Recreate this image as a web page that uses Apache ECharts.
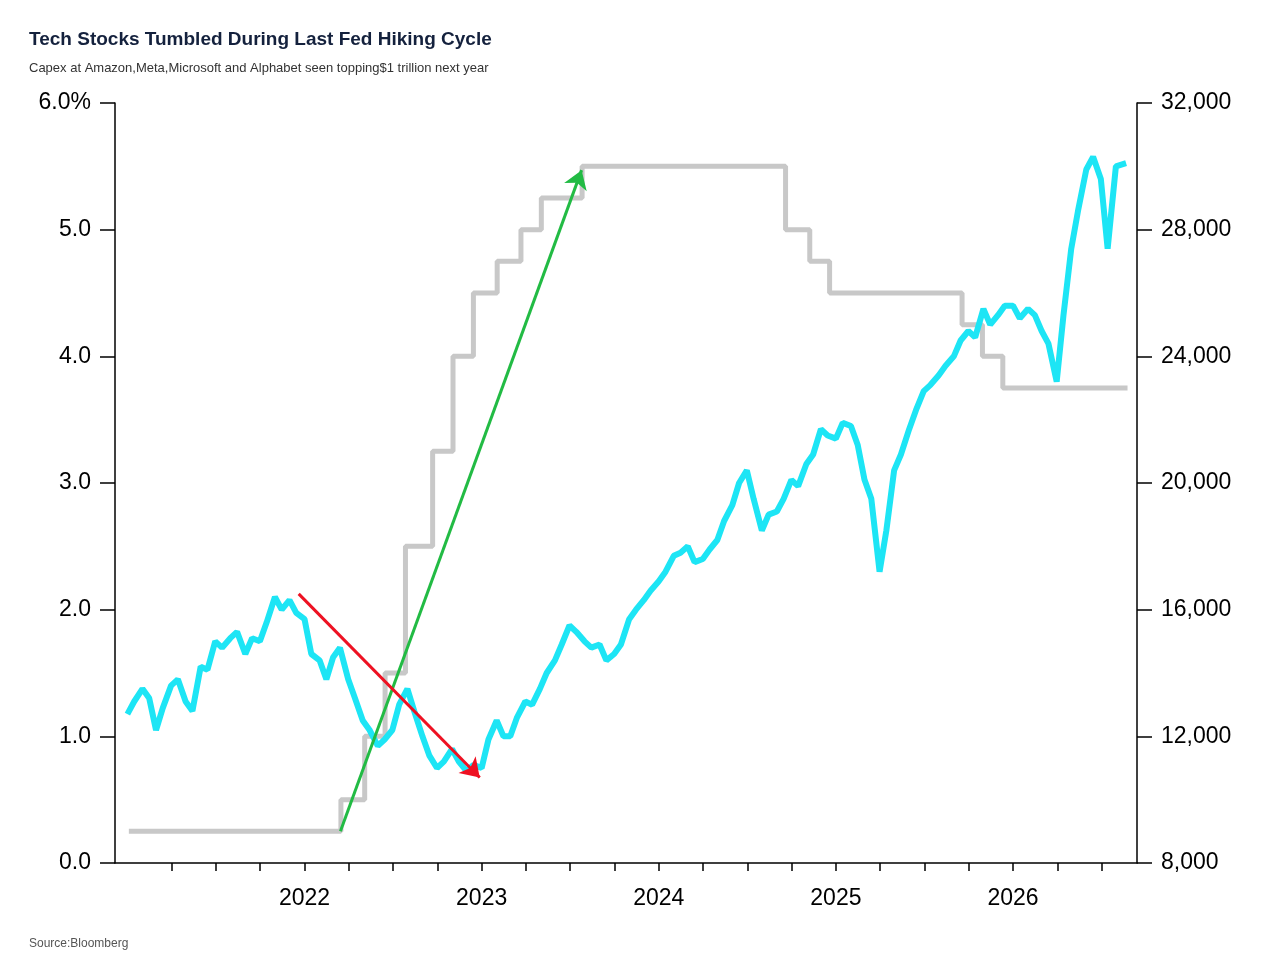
<!DOCTYPE html>
<html><head><meta charset="utf-8">
<script src="https://cdn.jsdelivr.net/npm/echarts@6/dist/echarts.min.js"></script>
<style>html,body{margin:0;background:#fff}#c{width:1284px;height:976px}</style>
</head><body><div id="c"></div>
<script>
// fed funds upper bound (%), change dates
const rateDates = ['2021-01-04','2022-03-17','2022-05-05','2022-06-16','2022-07-28','2022-09-22','2022-11-03','2022-12-15','2023-02-02','2023-03-23','2023-05-04','2023-07-27','2024-09-19','2024-11-08','2024-12-19','2025-09-18','2025-10-30','2025-12-11','2026-08-25'];
const rateVals = [0.25,0.5,1.0,1.5,2.5,3.25,4.0,4.5,4.75,5.0,5.25,5.5,5.0,4.75,4.5,4.25,4.0,3.75,3.75];

// tech index, semi-monthly
const idxDates = [];
for (let y = 2021; y <= 2026; y++) for (let m = 1; m <= 12; m++) {
  if (y === 2026 && m > 8) break;
  const mm = String(m).padStart(2,'0');
  idxDates.push(`${y}-${mm}-01`, `${y}-${mm}-${y === 2026 && m === 8 ? 22 : 15}`);
}
const idxVals = [
12.7,13.1, 13.5,13.2, 12.2,12.9, 13.6,13.8, 13.1,12.8, 14.2,14.1, 15.0,14.8, 15.1,15.3, 14.6,15.1, 15.0,15.6, 16.4,16.0, 16.3,15.9,
15.7,14.6, 14.4,13.8, 14.5,14.8, 13.8,13.2, 12.5,12.2, 11.7,11.9, 12.2,13.0, 13.5,12.8, 12.0,11.4, 11.0,11.2, 11.6,11.2, 10.9,11.1,
11.0,11.9, 12.5,12.0, 12.0,12.6, 13.1,13.0, 13.5,14.0, 14.4,14.9, 15.5,15.3, 15.0,14.8, 14.9,14.4, 14.6,14.9, 15.7,16.0, 16.3,16.6,
16.9,17.2, 17.7,17.8, 18.0,17.5, 17.6,17.9, 18.2,18.8, 19.3,20.0, 20.4,19.5, 18.5,19.0, 19.1,19.5, 20.1,19.9, 20.6,20.9, 21.7,21.5,
21.4,21.9, 21.8,21.2, 20.1,19.5, 17.2,18.5, 20.4,20.9, 21.7,22.3, 22.9,23.1, 23.4,23.7, 24.0,24.5, 24.8,24.6, 25.5,25.0, 25.3,25.6,
25.6,25.2, 25.5,25.3, 24.8,24.4, 23.2,25.3, 27.4,28.6, 29.9,30.3, 29.6,27.4, 30.0,30.1
].map(v => v * 1000);

// date string -> fractional year
function yf(d) {
  const t = new Date(d + 'T00:00:00Z');
  const y = t.getUTCFullYear();
  const s = Date.UTC(y, 0, 1), e = Date.UTC(y + 1, 0, 1);
  return y + (t - s) / (e - s);
}

const rateData = rateDates.map((d,i) => [yf(d), rateVals[i]]);
const idxData = idxDates.map((d,i) => [yf(d), idxVals[i]]);

const quarterTicks = [];
for (let y = 2021; y <= 2026; y++) for (const q of [0, 0.25, 0.5, 0.75]) {
  const v = y + q;
  if (v > 2021 && v < 2026.7) quarterTicks.push(v);
}
const yearLabels = [2022, 2023, 2024, 2025, 2026];
const font = 'Liberation Sans';

const chart = echarts.init(document.getElementById('c'));
chart.setOption({
  backgroundColor: '#fff',
  animation: false,
  title: [
    {text: 'Tech Stocks Tumbled During Last Fed Hiking Cycle', left: 24, top: 25,
     textStyle: {fontSize: 19, fontWeight: 'bold', color: '#14213d', fontFamily: font}},
    {text: 'Capex at Amazon,Meta,Microsoft and Alphabet seen topping$1 trillion next year', left: 24, top: 57,
     textStyle: {fontSize: 13, fontWeight: 'normal', color: '#333', fontFamily: font}},
    {text: 'Source:Bloomberg', left: 24, top: 933,
     textStyle: {fontSize: 12, fontWeight: 'normal', color: '#555', fontFamily: font}}
  ],
  grid: {left: 115, right: 147, top: 103, bottom: 113},
  xAxis: {
    type: 'value', min: 2020.93, max: 2026.70,
    axisLine: {onZero: false, lineStyle: {color: '#000', width: 1.5}},
    axisTick: {show: true, length: 8, lineStyle: {color: '#000', width: 1.5}, customValues: quarterTicks},
    axisLabel: {customValues: yearLabels, formatter: v => String(Math.round(v)), fontSize: 23, color: '#000', margin: 24, fontFamily: font},
    splitLine: {show: false}
  },
  yAxis: [
    {type: 'value', min: 0, max: 6, interval: 1,
     axisLine: {show: true, lineStyle: {color: '#000', width: 1.5}},
     axisTick: {show: true, length: 15, lineStyle: {color: '#000', width: 1.5}},
     axisLabel: {formatter: v => v === 6 ? '6.0%' : v.toFixed(1), fontSize: 23, color: '#000', fontFamily: font, margin: 24},
     splitLine: {show: false}},
    {type: 'value', min: 8000, max: 32000, interval: 4000, position: 'right',
     axisLine: {show: true, lineStyle: {color: '#000', width: 1.5}},
     axisTick: {show: true, length: 15, lineStyle: {color: '#000', width: 1.5}},
     axisLabel: {formatter: v => v.toLocaleString('en-US'), fontSize: 23, color: '#000', fontFamily: font, margin: 24},
     splitLine: {show: false}}
  ],
  series: [
    {type: 'line', yAxisIndex: 0, data: rateData, step: 'end', showSymbol: false,
     lineStyle: {color: '#c8c8c8', width: 5},
     markLine: {silent: true, symbol: ['none','arrow'], symbolSize: 18, label: {show: false},
       lineStyle: {color: '#22bb44', width: 3, type: 'solid'},
       data: [[{coord: [yf('2022-03-16'), 0.25]}, {coord: [yf('2023-07-26'), 5.47]}]]}},
    {type: 'line', yAxisIndex: 1, data: idxData, showSymbol: false,
     lineStyle: {color: '#1de5f5', width: 6},
     markLine: {silent: true, symbol: ['none','arrow'], symbolSize: 18, label: {show: false},
       lineStyle: {color: '#ee1122', width: 3, type: 'solid'},
       data: [[{coord: [yf('2021-12-20'), 16500]}, {coord: [yf('2022-12-28'), 10700]}]]}}
  ]
});
</script></body></html>
